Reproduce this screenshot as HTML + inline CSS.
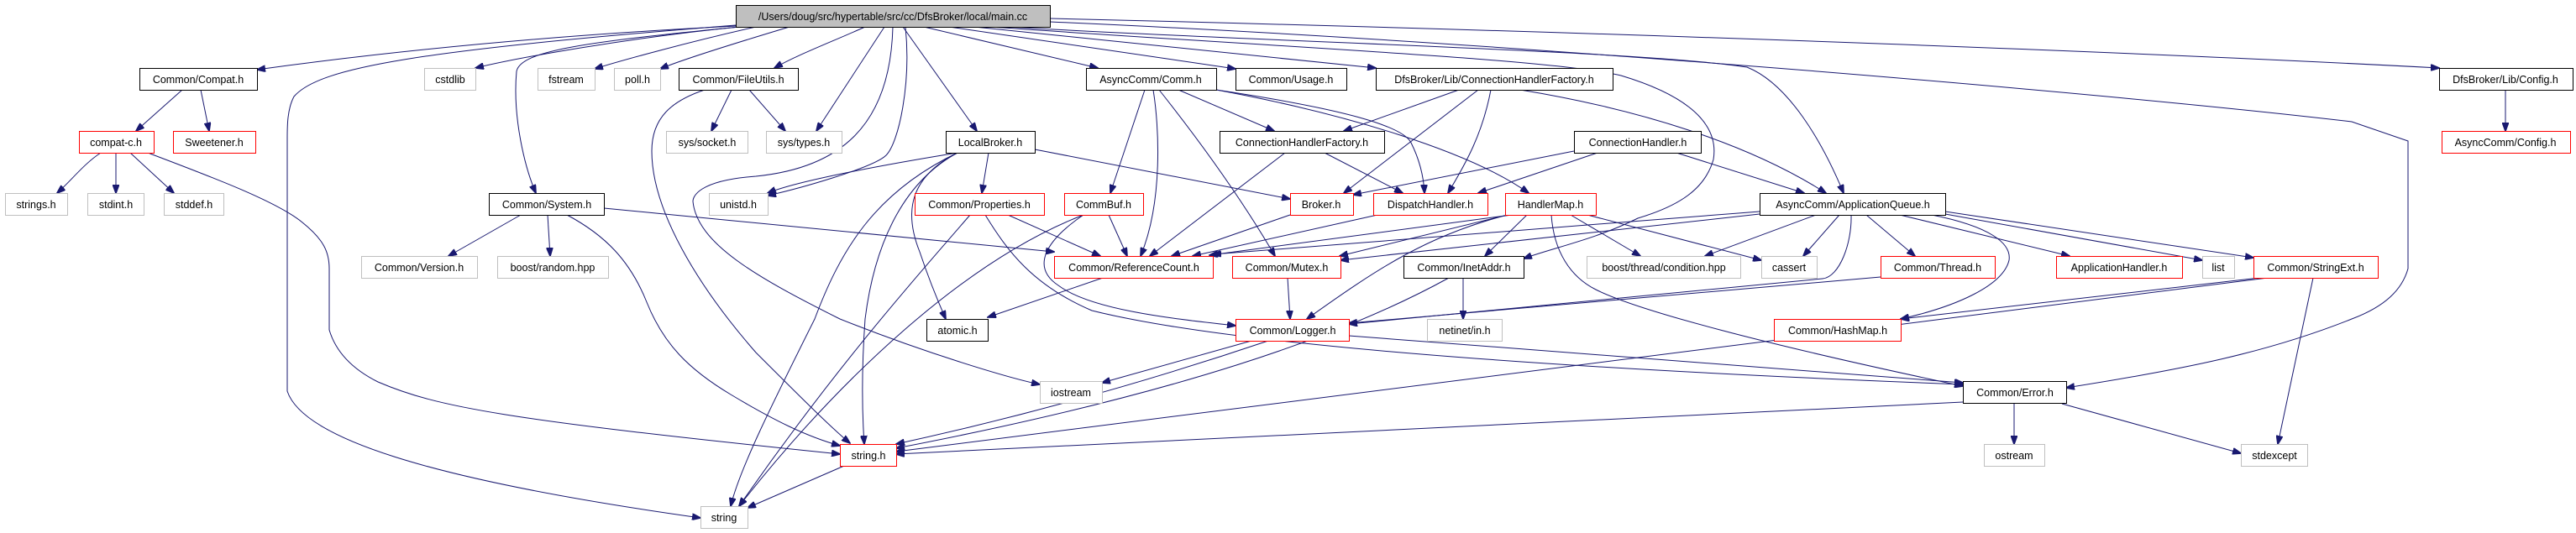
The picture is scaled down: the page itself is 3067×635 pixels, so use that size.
<!DOCTYPE html>
<html><head><meta charset="utf-8"><style>
html,body{margin:0;padding:0;background:#fff;}
svg{display:block;}
text{font-family:"Liberation Sans",Arial,sans-serif;font-size:12.5px;fill:#000;text-anchor:middle;}
.e{fill:none;stroke:#191970;stroke-width:1;}
.n{fill:#fff;stroke:#000;stroke-width:1;}
.g{fill:#fff;stroke:#bfbfbf;stroke-width:1;}
.r{fill:#fff;stroke:#ff0000;stroke-width:1;}
</style></head><body>
<svg width="3067" height="635" viewBox="0 0 3067 635" xmlns="http://www.w3.org/2000/svg">
<defs><marker id="a" markerWidth="11" markerHeight="8" refX="10" refY="4" orient="auto" markerUnits="userSpaceOnUse"><path d="M0,0 L11,4 L0,8 z" fill="#191970" stroke="#191970"/></marker></defs>
<g class="e" marker-end="url(#a)">
<path d="M876 31 C600 45 400 70 306 83"/>
<path d="M880 32 C750 45 620 68 566 81"/>
<path d="M900 32 C820 50 740 72 708 82"/>
<path d="M940 32 C880 50 810 72 786 82"/>
<path d="M880 32 C700 50 620 60 615 85 C610 140 625 200 638 230"/>
<path d="M876 30 C500 60 380 80 350 115 C342 130 342 150 342 165 L342 466 C360 520 500 570 834 617"/>
<path d="M1030 32 C990 50 950 65 922 81"/>
<path d="M1053 32 L972 156"/>
<path d="M1078 32 C1085 100 1070 170 1055 185 C1040 200 950 225 914 233"/>
<path d="M1063 32 C1060 150 1000 200 900 210 C830 215 825 235 825 240 C830 290 900 330 1000 380 C1100 420 1200 450 1238 458"/>
<path d="M1075 32 L1163 156"/>
<path d="M1100 32 L1307 81"/>
<path d="M1130 32 L1471 82"/>
<path d="M1160 32 L1638 81"/>
<path d="M1250 22 C2000 40 2600 65 2904 81"/>
<path d="M1250 26 C1800 50 2500 110 2800 145 L2867 168 L2867 320 C2860 345 2840 365 2800 380 C2700 420 2600 440 2460 462"/>
<path d="M1200 32 C1500 50 1950 60 2080 80 C2130 100 2170 170 2195 230"/>
<path d="M1180 32 C1500 55 1850 70 1930 90 C2030 120 2045 160 2040 190 C2030 225 2000 245 1950 260 C1900 285 1850 295 1814 308"/>
<path d="M217 107 L162 156"/>
<path d="M239 107 L249 156"/>
<path d="M120 182 C100 195 85 215 68 230"/>
<path d="M138 182 L138 230"/>
<path d="M155 182 L207 230"/>
<path d="M176 182 C250 210 330 240 360 265 C385 285 392 300 392 320 L392 393 C400 420 420 440 450 455 C520 485 600 500 1000 541"/>
<path d="M620 256 L534 305"/>
<path d="M652 256 L655 305"/>
<path d="M675 256 C720 280 750 310 770 360 C790 410 820 440 870 470 C920 500 960 520 1000 531"/>
<path d="M719 248 L1255 300"/>
<path d="M871 107 L847 156"/>
<path d="M892 107 L935 156"/>
<path d="M839 107 C800 120 776 140 776 180 C776 250 830 340 900 420 C950 470 990 510 1012 528"/>
<path d="M1140 182 C1060 195 950 215 914 230"/>
<path d="M1232 178 L1536 237"/>
<path d="M1177 182 L1169 230"/>
<path d="M1140 182 C1085 210 1075 250 1095 300 C1105 330 1115 355 1126 380"/>
<path d="M1140 182 C1070 220 1040 300 1030 380 C1025 450 1027 500 1029 529"/>
<path d="M1140 182 C1040 230 1000 300 970 380 C920 480 880 560 870 603"/>
<path d="M1155 256 C1100 320 1000 430 880 603"/>
<path d="M1200 256 L1310 305"/>
<path d="M1173 256 C1200 300 1230 340 1300 370 C1500 420 2000 445 2337 458"/>
<path d="M1320 256 L1342 305"/>
<path d="M1290 256 C1240 290 1230 320 1260 340 C1300 370 1400 380 1471 388"/>
<path d="M1290 256 C1150 310 1000 450 880 603"/>
<path d="M1363 107 L1322 230"/>
<path d="M1373 107 C1380 150 1385 240 1358 305"/>
<path d="M1380 107 C1430 170 1480 240 1518 305"/>
<path d="M1403 107 L1517 156"/>
<path d="M1448 107 C1600 130 1670 150 1680 170 C1690 190 1695 210 1696 230"/>
<path d="M1448 107 C1600 135 1750 180 1820 230"/>
<path d="M1737 107 L1600 156"/>
<path d="M1760 107 L1600 230"/>
<path d="M1775 107 C1765 160 1745 195 1724 230"/>
<path d="M1810 107 C1950 130 2080 170 2174 230"/>
<path d="M1530 182 L1369 305"/>
<path d="M1577 182 L1670 230"/>
<path d="M1874 180 L1611 232"/>
<path d="M1902 182 L1760 230"/>
<path d="M1996 182 L2148 230"/>
<path d="M1536 256 L1395 305"/>
<path d="M1640 256 L1420 305"/>
<path d="M1800 256 L1440 304"/>
<path d="M1795 256 L1595 305"/>
<path d="M1818 256 L1768 305"/>
<path d="M1795 256 C1700 280 1640 320 1556 380"/>
<path d="M1870 256 L1953 305"/>
<path d="M1890 256 L2097 310"/>
<path d="M1847 256 C1850 300 1870 330 1900 345 C1950 370 2100 410 2337 460"/>
<path d="M2095 252 L1444 303"/>
<path d="M2095 255 L1596 310"/>
<path d="M2162 256 L2030 305"/>
<path d="M2190 256 L2147 305"/>
<path d="M2204 256 C2205 290 2190 330 2170 332 L1606 386"/>
<path d="M2222 256 L2280 305"/>
<path d="M2300 256 C2370 270 2395 290 2392 310 C2385 340 2330 365 2263 380"/>
<path d="M2262 256 L2464 305"/>
<path d="M2316 255 L2622 310"/>
<path d="M2316 252 L2683 307"/>
<path d="M1742 331 L1742 380"/>
<path d="M1725 331 C1600 400 1400 470 1067 534"/>
<path d="M1533 331 L1536 380"/>
<path d="M1490 406 L1312 456"/>
<path d="M1510 406 C1350 460 1200 500 1067 529"/>
<path d="M1606 400 L2337 456"/>
<path d="M2239 330 L1606 385"/>
<path d="M2690 331 L2263 380"/>
<path d="M2700 331 C2400 370 2000 420 1067 538"/>
<path d="M2754 331 L2712 529"/>
<path d="M2337 479 L1067 541"/>
<path d="M2398 481 L2398 529"/>
<path d="M2455 481 L2668 540"/>
<path d="M1313 331 L1176 378"/>
<path d="M1005 555 L890 605"/>
<path d="M2983 107 L2983 156"/>
</g>
<g>
<rect x="876.5" y="6.5" width="374" height="26" fill="#bfbfbf" stroke="#000"/><text x="1063" y="24">/Users/doug/src/hypertable/src/cc/DfsBroker/local/main.cc</text>
<rect class="n" x="166.5" y="81.5" width="140" height="26"/><text x="236" y="99">Common/Compat.h</text>
<rect class="g" x="505.5" y="81.5" width="61" height="26"/><text x="536" y="99">cstdlib</text>
<rect class="g" x="640.5" y="81.5" width="68" height="26"/><text x="674" y="99">fstream</text>
<rect class="g" x="731.5" y="81.5" width="55" height="26"/><text x="759" y="99">poll.h</text>
<rect class="n" x="808.5" y="81.5" width="142" height="26"/><text x="879" y="99">Common/FileUtils.h</text>
<rect class="n" x="1293.5" y="81.5" width="155" height="26"/><text x="1370" y="99">AsyncComm/Comm.h</text>
<rect class="n" x="1471.5" y="81.5" width="132" height="26"/><text x="1537" y="99">Common/Usage.h</text>
<rect class="n" x="1638.5" y="81.5" width="282" height="26"/><text x="1779" y="99">DfsBroker/Lib/ConnectionHandlerFactory.h</text>
<rect class="n" x="2904.5" y="81.5" width="159" height="26"/><text x="2983" y="99">DfsBroker/Lib/Config.h</text>
<rect class="r" x="94.5" y="156.5" width="89" height="26"/><text x="138" y="174">compat-c.h</text>
<rect class="r" x="206.5" y="156.5" width="98" height="26"/><text x="255" y="174">Sweetener.h</text>
<rect class="g" x="793.5" y="156.5" width="97" height="26"/><text x="842" y="174">sys/socket.h</text>
<rect class="g" x="912.5" y="156.5" width="90" height="26"/><text x="957" y="174">sys/types.h</text>
<rect class="n" x="1126.5" y="156.5" width="106" height="26"/><text x="1179" y="174">LocalBroker.h</text>
<rect class="n" x="1452.5" y="156.5" width="196" height="26"/><text x="1550" y="174">ConnectionHandlerFactory.h</text>
<rect class="n" x="1874.5" y="156.5" width="151" height="26"/><text x="1950" y="174">ConnectionHandler.h</text>
<rect class="r" x="2907.5" y="156.5" width="153" height="26"/><text x="2983" y="174">AsyncComm/Config.h</text>
<rect class="g" x="6.5" y="230.5" width="74" height="26"/><text x="43" y="248">strings.h</text>
<rect class="g" x="104.5" y="230.5" width="67" height="26"/><text x="138" y="248">stdint.h</text>
<rect class="g" x="195.5" y="230.5" width="71" height="26"/><text x="231" y="248">stddef.h</text>
<rect class="n" x="582.5" y="230.5" width="137" height="26"/><text x="651" y="248">Common/System.h</text>
<rect class="g" x="844.5" y="230.5" width="70" height="26"/><text x="879" y="248">unistd.h</text>
<rect class="r" x="1089.5" y="230.5" width="154" height="26"/><text x="1166" y="248">Common/Properties.h</text>
<rect class="r" x="1267.5" y="230.5" width="94" height="26"/><text x="1314" y="248">CommBuf.h</text>
<rect class="r" x="1536.5" y="230.5" width="75" height="26"/><text x="1573" y="248">Broker.h</text>
<rect class="r" x="1635.5" y="230.5" width="136" height="26"/><text x="1703" y="248">DispatchHandler.h</text>
<rect class="r" x="1792.5" y="230.5" width="108" height="26"/><text x="1846" y="248">HandlerMap.h</text>
<rect class="n" x="2095.5" y="230.5" width="221" height="26"/><text x="2206" y="248">AsyncComm/ApplicationQueue.h</text>
<rect class="g" x="430.5" y="305.5" width="138" height="26"/><text x="499" y="323">Common/Version.h</text>
<rect class="g" x="592.5" y="305.5" width="132" height="26"/><text x="658" y="323">boost/random.hpp</text>
<rect class="r" x="1255.5" y="305.5" width="189" height="26"/><text x="1350" y="323">Common/ReferenceCount.h</text>
<rect class="r" x="1467.5" y="305.5" width="129" height="26"/><text x="1532" y="323">Common/Mutex.h</text>
<rect class="n" x="1671.5" y="305.5" width="143" height="26"/><text x="1743" y="323">Common/InetAddr.h</text>
<rect class="g" x="1889.5" y="305.5" width="183" height="26"/><text x="1981" y="323">boost/thread/condition.hpp</text>
<rect class="g" x="2097.5" y="305.5" width="66" height="26"/><text x="2130" y="323">cassert</text>
<rect class="r" x="2239.5" y="305.5" width="136" height="26"/><text x="2307" y="323">Common/Thread.h</text>
<rect class="r" x="2448.5" y="305.5" width="150" height="26"/><text x="2523" y="323">ApplicationHandler.h</text>
<rect class="g" x="2622.5" y="305.5" width="38" height="26"/><text x="2641" y="323">list</text>
<rect class="r" x="2683.5" y="305.5" width="148" height="26"/><text x="2757" y="323">Common/StringExt.h</text>
<rect class="n" x="1103.5" y="380.5" width="73" height="26"/><text x="1140" y="398">atomic.h</text>
<rect class="r" x="1471.5" y="380.5" width="135" height="26"/><text x="1539" y="398">Common/Logger.h</text>
<rect class="g" x="1699.5" y="380.5" width="89" height="26"/><text x="1744" y="398">netinet/in.h</text>
<rect class="r" x="2112.5" y="380.5" width="151" height="26"/><text x="2188" y="398">Common/HashMap.h</text>
<rect class="g" x="1238.5" y="454.5" width="74" height="26"/><text x="1275" y="472">iostream</text>
<rect class="n" x="2337.5" y="454.5" width="123" height="26"/><text x="2399" y="472">Common/Error.h</text>
<rect class="r" x="1000.5" y="529.5" width="67" height="26"/><text x="1034" y="547">string.h</text>
<rect class="g" x="2362.5" y="529.5" width="72" height="26"/><text x="2398" y="547">ostream</text>
<rect class="g" x="2668.5" y="529.5" width="79" height="26"/><text x="2708" y="547">stdexcept</text>
<rect class="g" x="834.5" y="603.5" width="56" height="26"/><text x="862" y="621">string</text>
</g>
</svg>
</body></html>
